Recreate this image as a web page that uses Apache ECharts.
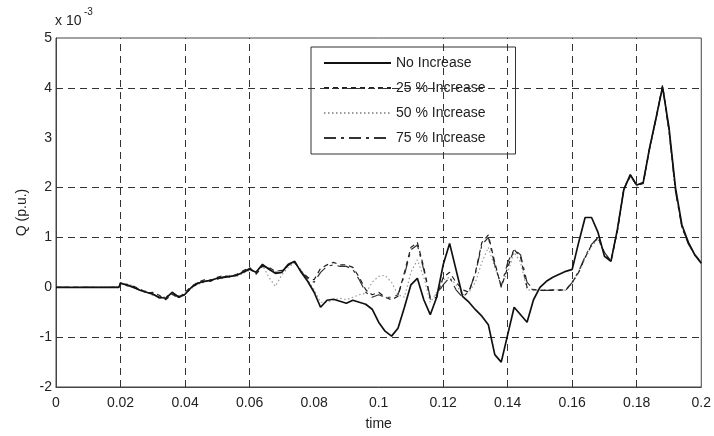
<!DOCTYPE html>
<html>
<head>
<meta charset="utf-8">
<script src="https://cdn.jsdelivr.net/npm/echarts@6/dist/echarts.min.js"></script>
<style>
html,body{margin:0;padding:0;background:#fff;}
#chart{width:714px;height:436px;}
</style>
</head>
<body>
<div id="chart"></div>
<script>
// time axis samples (s)
const time = [0, 0.0195,
0.020,0.022,0.024,0.026,0.028,0.030,0.032,0.034,0.036,0.038,
0.040,0.042,0.044,0.046,0.048,0.050,0.052,0.054,0.056,0.058,
0.060,0.062,0.064,0.066,0.068,0.070,0.072,0.074,0.076,0.078,
0.080,0.082,0.084,0.086,0.088,0.090,0.092,0.094,0.096,0.098,
0.100,0.102,0.104,0.106,0.108,0.110,0.112,0.114,0.116,0.118,
0.120,0.122,0.124,0.126,0.128,0.130,0.132,0.134,0.136,0.138,
0.140,0.142,0.144,0.146,0.148,0.150,0.152,0.154,0.156,0.158,
0.160,0.162,0.164,0.166,0.168,0.170,0.172,0.174,0.176,0.178,
0.180,0.182,0.184,0.186,0.188,0.190,0.192,0.194,0.196,0.198,
0.200];

// Q values in units of 1e-3 p.u.
const noIncrease = [0, 0,
0.08,0.05,0.0,-0.06,-0.1,-0.14,-0.2,-0.22,-0.1,-0.2,
-0.14,0.0,0.08,0.12,0.14,0.18,0.2,0.22,0.24,0.3,
0.36,0.3,0.46,0.36,0.28,0.3,0.46,0.52,0.3,0.12,
-0.1,-0.4,-0.26,-0.24,-0.28,-0.32,-0.26,-0.3,-0.34,-0.44,
-0.7,-0.88,-0.98,-0.82,-0.4,0.05,0.18,-0.25,-0.55,-0.2,
0.45,0.88,0.35,-0.18,-0.3,-0.45,-0.58,-0.75,-1.35,-1.5,
-0.95,-0.4,-0.55,-0.7,-0.25,0.0,0.12,0.2,0.26,0.32,
0.36,0.9,1.4,1.4,1.1,0.62,0.52,1.16,1.96,2.26,
2.05,2.1,2.8,3.4,4.02,3.2,2.0,1.25,0.9,0.65,
0.48];

const inc25 = [0, 0,
0.1,0.03,0.02,-0.03,-0.12,-0.1,-0.16,-0.25,-0.14,-0.22,
-0.1,0.02,0.1,0.15,0.12,0.2,0.24,0.2,0.26,0.33,
0.4,0.26,0.42,0.4,0.32,0.34,0.44,0.5,0.32,0.2,
0.15,0.38,0.45,0.5,0.45,0.45,0.4,0.2,-0.05,-0.15,
-0.1,-0.2,-0.25,-0.18,0.3,0.8,0.9,0.4,-0.24,-0.2,
0.2,0.3,0.1,-0.05,-0.1,0.3,0.9,1.05,0.5,0.0,
0.4,0.76,0.6,0.0,-0.05,-0.06,-0.06,-0.05,-0.06,-0.05,
0.1,0.3,0.6,0.85,1.0,0.68,0.52,1.12,1.98,2.22,
2.05,2.08,2.78,3.38,4.05,3.15,1.95,1.22,0.88,0.66,
0.5];

const inc50 = [0, 0,
0.06,0.07,0.03,-0.04,-0.08,-0.16,-0.18,-0.2,-0.12,-0.17,
-0.12,-0.02,0.06,0.1,0.16,0.16,0.18,0.24,0.22,0.28,
0.34,0.32,0.44,0.2,0.02,0.25,0.4,0.48,0.35,0.15,
-0.05,-0.3,-0.3,-0.25,-0.22,-0.25,-0.2,-0.15,-0.12,0.1,
0.22,0.24,0.1,-0.15,-0.2,0.3,0.55,0.2,-0.3,-0.1,
0.15,0.2,0.05,-0.15,-0.1,0.1,0.5,0.8,0.4,0.05,
0.3,0.7,0.5,-0.05,-0.06,-0.06,-0.05,-0.06,-0.05,-0.06,
0.08,0.3,0.58,0.82,0.98,0.66,0.54,1.14,1.97,2.24,
2.03,2.09,2.79,3.39,4.03,3.12,1.92,1.21,0.86,0.64,
0.49];

const inc75 = [0, 0,
0.09,0.04,-0.01,-0.05,-0.09,-0.13,-0.22,-0.2,-0.12,-0.18,
-0.16,0.01,0.09,0.11,0.15,0.17,0.21,0.23,0.25,0.31,
0.38,0.28,0.44,0.38,0.3,0.32,0.45,0.5,0.31,0.18,
0.1,0.3,0.42,0.45,0.42,0.42,0.36,0.15,-0.1,-0.2,
-0.15,-0.2,-0.2,-0.15,0.25,0.75,0.85,0.35,-0.2,-0.15,
0.05,0.2,-0.05,-0.2,-0.08,0.28,0.85,1.0,0.45,0.02,
0.5,0.76,0.65,0.1,-0.04,-0.06,-0.06,-0.06,-0.05,-0.06,
0.1,0.32,0.62,0.86,1.0,0.7,0.53,1.15,1.99,2.25,
2.04,2.1,2.8,3.4,4.04,3.12,1.93,1.2,0.87,0.65,
0.49];

const seriesNames = ['No Increase', '25 % Increase', '50 % Increase', '75 % Increase'];
const xTickLabels = ['0','0.02','0.04','0.06','0.08','0.1','0.12','0.14','0.16','0.18','0.2'];
const yTickLabels = ['-2','-1','0','1','2','3','4','5'];
// grid lines visible in the reference
const xGridLines = [0.02,0.04,0.06,0.12,0.14,0.16,0.18];
const yGridLines = [4,2,1,-1];

const pairs = vals => time.map((t, i) => [t, vals[i]]);

const chart = echarts.init(document.getElementById('chart'), null, {renderer: 'canvas'});
const font = 'Liberation Sans, Arial, sans-serif';

chart.setOption({
  animation: false,
  backgroundColor: '#fff',
  grid: {left: 56, right: 10, top: 38, bottom: 47, show: true, borderColor: '#444', borderWidth: 1, backgroundColor: 'transparent'},
  xAxis: {
    type: 'value', min: 0, max: 0.2, interval: 0.02,
    name: 'time', nameLocation: 'middle', nameGap: 30,
    nameTextStyle: {fontSize: 14, color: '#222', fontFamily: font},
    axisLine: {show: true, onZero: false, lineStyle: {color: '#444', width: 1}},
    axisTick: {show: false},
    splitLine: {show: false},
    axisLabel: {fontSize: 14, color: '#222', fontFamily: font, margin: 9,
      formatter: v => xTickLabels[Math.round(v / 0.02)]}
  },
  yAxis: {
    type: 'value', min: -2, max: 5, interval: 1,
    name: 'Q (p.u.)', nameLocation: 'middle', nameGap: 27, nameRotate: 90,
    nameTextStyle: {fontSize: 14, color: '#222', fontFamily: font},
    axisLine: {show: true, onZero: false, lineStyle: {color: '#444', width: 1}},
    axisTick: {show: false},
    splitLine: {show: false},
    axisLabel: {fontSize: 14, color: '#222', fontFamily: font, margin: 4,
      formatter: v => yTickLabels[Math.round(v + 2)]}
  },
  legend: {
    orient: 'vertical', left: 311, top: 47,
    itemWidth: 67, itemHeight: 14, itemGap: 11,
    padding: [9, 30, 9, 12],
    borderColor: '#333', borderWidth: 1, backgroundColor: '#fff',
    itemStyle: {opacity: 0},
    textStyle: {fontSize: 14, color: '#222', fontFamily: font},
    data: seriesNames
  },
  graphic: [
    {type: 'text', left: 55, top: 14, style: {text: 'x 10', fontSize: 14, fill: '#222', fontFamily: font}},
    {type: 'text', left: 84, top: 7, style: {text: '-3', fontSize: 10, fill: '#222', fontFamily: font}}
  ],
  series: [
    {
      type: 'line', name: 'gridlines', data: [], silent: true, z: 1,
      markLine: {
        symbol: 'none', silent: true, animation: false,
        label: {show: false},
        lineStyle: {color: '#333', type: [7, 5], width: 1},
        data: xGridLines.map(v => ({xAxis: v})).concat(yGridLines.map(v => ({yAxis: v})))
      }
    },
    {type: 'line', name: seriesNames[2], data: pairs(inc50), symbol: 'none', z: 2,
      lineStyle: {color: '#9a9a9a', width: 1.2, type: [1.5, 2.5]}, itemStyle: {color: '#9a9a9a'}},
    {type: 'line', name: seriesNames[3], data: pairs(inc75), symbol: 'none', z: 3,
      lineStyle: {color: '#333', width: 1.2, type: [12, 5, 3, 5]}, itemStyle: {color: '#333'}},
    {type: 'line', name: seriesNames[1], data: pairs(inc25), symbol: 'none', z: 4,
      lineStyle: {color: '#222', width: 1.2, type: [5, 4]}, itemStyle: {color: '#222'}},
    {type: 'line', name: seriesNames[0], data: pairs(noIncrease), symbol: 'none', z: 5,
      lineStyle: {color: '#111', width: 1.7, type: 'solid'}, itemStyle: {color: '#111'}}
  ]
});
</script>
</body>
</html>
